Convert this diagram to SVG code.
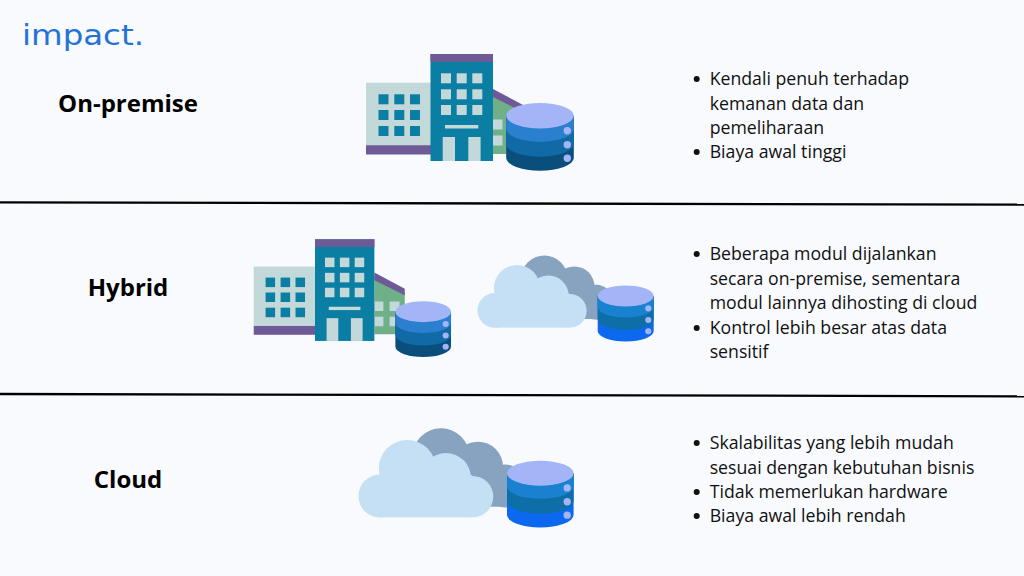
<svg xmlns="http://www.w3.org/2000/svg" width="1024" height="576" viewBox="0 0 1024 576">
<style>
.t{font-family:"Open Sans","Noto Sans",sans-serif;font-weight:700;font-size:24px;fill:#000;text-anchor:middle}
.b{font-family:"Open Sans","Noto Sans",sans-serif;font-size:17.7px;fill:#111}
.logo{font-family:"DejaVu Sans",sans-serif;font-size:28.5px;fill:#2472d8}
.sep{stroke:#000;stroke-width:2.3;fill:none}
</style>
<defs>
<g id="bldg">
<path fill="#6fb089" d="M493 93L525 110V154H493Z"/>
<path fill="#6e5a96" d="M493 89L525 106V113L493 97Z"/>
<g fill="#c3d8d9"><rect x="493" y="119.5" width="9.5" height="10"/><rect x="493" y="135.5" width="9.5" height="10"/><rect x="509" y="119.5" width="10.5" height="10"/><rect x="509" y="135.5" width="10.5" height="10"/></g>
<rect x="366" y="82.7" width="65" height="62.5" fill="#c3d8d9"/>
<rect x="366" y="145.2" width="65" height="9.3" fill="#6e5a96"/>
<g fill="#0b7ea3"><rect x="378.5" y="94.3" width="10" height="10"/><rect x="394.3" y="94.3" width="10" height="10"/><rect x="410" y="94.3" width="10" height="10"/><rect x="378.5" y="110" width="10" height="10"/><rect x="394.3" y="110" width="10" height="10"/><rect x="410" y="110" width="10" height="10"/><rect x="378.5" y="126" width="10" height="10"/><rect x="394.3" y="126" width="10" height="10"/><rect x="410" y="126" width="10" height="10"/></g>
<rect x="430.5" y="54" width="62.5" height="107" fill="#0b7ea3"/>
<rect x="430.5" y="54" width="62.5" height="8" fill="#6e5a96"/>
<g fill="#c3d8d9"><rect x="441" y="73.3" width="10" height="10"/><rect x="456.7" y="73.3" width="10" height="10"/><rect x="472.3" y="73.3" width="10" height="10"/><rect x="441" y="89.3" width="10" height="10"/><rect x="456.7" y="89.3" width="10" height="10"/><rect x="472.3" y="89.3" width="10" height="10"/><rect x="441" y="105" width="10" height="10"/><rect x="456.7" y="105" width="10" height="10"/><rect x="472.3" y="105" width="10" height="10"/><rect x="445" y="125" width="33.3" height="3.5"/><rect x="442.7" y="137" width="12.3" height="24"/><rect x="468.3" y="137" width="12.3" height="24"/></g>
</g>
<g id="db">
<path d="M-33.8 0V42.3A33.8 12.7 0 0 0 33.8 42.3V0Z" fill="var(--c3)"/>
<path d="M-33.8 0V28.3A33.8 12.7 0 0 0 33.8 28.3V0Z" fill="var(--c2)"/>
<path d="M-33.8 0V13.3A33.8 12.7 0 0 0 33.8 13.3V0Z" fill="var(--c1)"/>
<ellipse cx="0" cy="0" rx="33.8" ry="12.7" fill="#a3b5f7"/>
<g fill="#a3b5f7"><circle cx="27.3" cy="15" r="3.7"/><circle cx="27.3" cy="29" r="3.7"/><circle cx="27.3" cy="42.6" r="3.7"/></g>
</g>
<g id="cloud">
<g fill="#87a3c0"><circle cx="441" cy="457" r="28.7"/><circle cx="478" cy="466.7" r="25"/><circle cx="505" cy="486" r="21.5"/><rect x="430" y="470" width="90" height="36.7"/></g>
<g fill="#c5dff5"><circle cx="380" cy="496" r="21.5"/><circle cx="407.3" cy="468.5" r="28.5"/><circle cx="446" cy="478" r="25"/><circle cx="472.6" cy="496.6" r="20.7"/><rect x="380" y="475" width="92" height="42.3"/></g>
</g>
</defs>
<rect width="1024" height="576" fill="#f8fafd"/>
<g id="logo"><text class="logo" x="22" y="45" textLength="122" lengthAdjust="spacingAndGlyphs">impact.</text></g>
<g id="connectors">
<line class="sep" x1="0" y1="202.3" x2="1024" y2="204.7"/>
<line class="sep" x1="0" y1="394" x2="1024" y2="396.3"/>
</g>
<g id="on-premise">
<text class="t" x="128" y="112">On-premise</text>
<use href="#bldg"/>
<use href="#db" transform="translate(540 115.7)" style="--c1:#2a80cf;--c2:#0f6aa6;--c3:#0a4f7c"/>
<text class="b" x="709.7" y="85">Kendali penuh terhadap</text>
<text class="b" x="709.7" y="110">kemanan data dan</text>
<text class="b" x="709.7" y="134">pemeliharaan</text>
<text class="b" x="709.7" y="158">Biaya awal tinggi</text>
<g fill="#111"><circle cx="696.7" cy="79" r="3"/><circle cx="696.7" cy="152" r="3"/></g>
</g>
<g id="hybrid">
<text class="t" x="128" y="296">Hybrid</text>
<use href="#bldg" transform="translate(-93.975 188) scale(.95)"/>
<use href="#db" transform="translate(423.2 311.7) scale(.823)" style="--c1:#2a80cf;--c2:#0f6aa6;--c3:#0a4f7c"/>
<use href="#cloud" transform="translate(187.1 -91.4) scale(.81)"/>
<use href="#db" transform="translate(625.7 296) scale(.828)" style="--c1:#1a80d0;--c2:#0e6ea8;--c3:#0d68f0"/>
<text class="b" x="709.7" y="260">Beberapa modul dijalankan</text>
<text class="b" x="709.7" y="285">secara on-premise, sementara</text>
<text class="b" x="709.7" y="309">modul lainnya dihosting di cloud</text>
<text class="b" x="709.7" y="334">Kontrol lebih besar atas data</text>
<text class="b" x="709.7" y="358">sensitif</text>
<g fill="#111"><circle cx="696.7" cy="254" r="3"/><circle cx="696.7" cy="328" r="3"/></g>
</g>
<g id="cloud-section">
<text class="t" x="128" y="488">Cloud</text>
<use href="#cloud"/>
<use href="#db" transform="translate(540.3 473.2) scale(.985)" style="--c1:#1a80d0;--c2:#0e6ea8;--c3:#0d68f0"/>
<text class="b" x="709.7" y="449">Skalabilitas yang lebih mudah</text>
<text class="b" x="709.7" y="474">sesuai dengan kebutuhan bisnis</text>
<text class="b" x="709.7" y="498">Tidak memerlukan hardware</text>
<text class="b" x="709.7" y="522">Biaya awal lebih rendah</text>
<g fill="#111"><circle cx="696.7" cy="443" r="3"/><circle cx="696.7" cy="492" r="3"/><circle cx="696.7" cy="516" r="3"/></g>
</g>
</svg>
